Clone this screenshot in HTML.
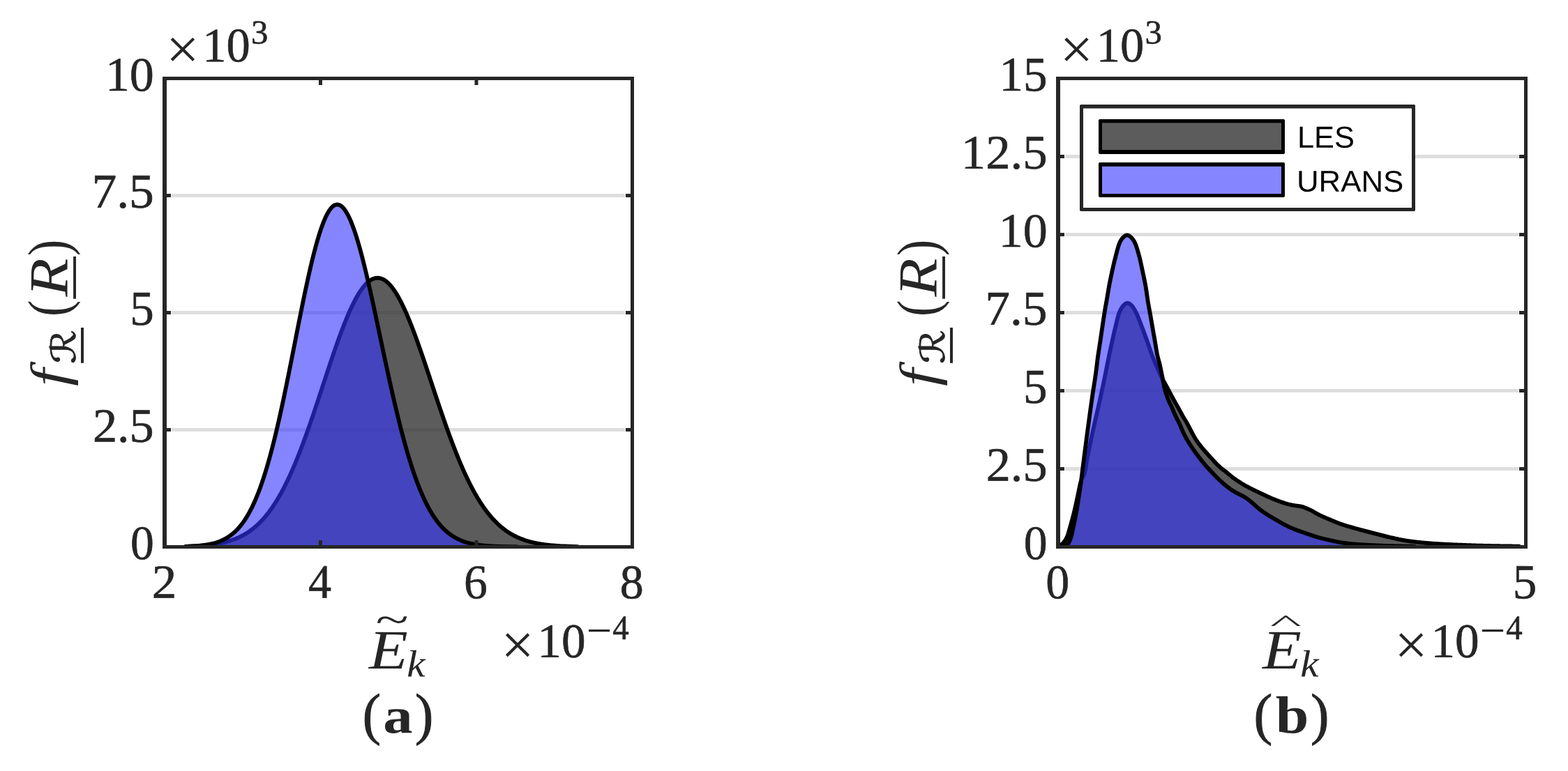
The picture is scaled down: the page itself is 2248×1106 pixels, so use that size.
<!DOCTYPE html>
<html lang="en">
<head>
<meta charset="utf-8">
<title>PDF comparison LES vs URANS</title>
<style>
html,body{margin:0;padding:0;background:#fff;}
body{width:2248px;height:1106px;overflow:hidden;font-family:"Liberation Serif",serif;}
svg{display:block;}
text{white-space:pre;text-rendering:geometricPrecision;}
</style>
</head>
<body>
<svg width="2248" height="1106" viewBox="0 0 2248 1106" role="img" aria-label="Probability density functions of the kinetic energy for LES and URANS">
<defs>
<clipPath id="cl"><rect x="236" y="112" width="671" height="675"/></clipPath>
<clipPath id="cr"><rect x="1517" y="112" width="671" height="675"/></clipPath>
</defs>
<rect x="0" y="0" width="2248" height="1106" fill="#fff"/>
<rect x="246" y="278" width="650" height="5" fill="#dedede"/>
<rect x="246" y="446" width="650" height="5" fill="#dedede"/>
<rect x="246" y="614" width="650" height="5" fill="#dedede"/>
<g clip-path="url(#cl)">
<path d="M268.50,786.40 L268.50,783.79 L271.67,783.67 L276.40,783.48 L280.36,783.28 L283.77,783.08 L286.77,782.89 L289.46,782.69 L291.89,782.49 L294.12,782.30 L296.17,782.10 L298.08,781.90 L299.86,781.71 L301.53,781.51 L303.11,781.31 L304.60,781.11 L306.02,780.92 L307.36,780.72 L308.65,780.52 L309.88,780.33 L311.06,780.13 L312.19,779.93 L313.28,779.74 L314.33,779.54 L315.35,779.34 L316.33,779.15 L317.28,778.95 L318.20,778.75 L319.09,778.56 L319.96,778.36 L320.81,778.16 L321.63,777.97 L322.42,777.77 L323.20,777.57 L323.96,777.37 L324.71,777.18 L325.43,776.98 L326.14,776.78 L332.09,774.94 L337.12,773.10 L341.50,771.26 L345.38,769.42 L348.88,767.58 L352.07,765.73 L355.01,763.89 L357.74,762.05 L360.29,760.21 L362.69,758.37 L364.95,756.52 L367.09,754.68 L369.13,752.84 L371.08,751.00 L372.94,749.16 L374.73,747.32 L376.45,745.47 L378.11,743.63 L379.70,741.79 L381.25,739.95 L382.75,738.11 L384.20,736.27 L385.61,734.42 L386.99,732.58 L388.32,730.74 L389.63,728.90 L390.90,727.06 L392.14,725.21 L393.35,723.37 L394.54,721.53 L395.70,719.69 L396.84,717.85 L397.95,716.01 L399.05,714.16 L400.12,712.32 L401.18,710.48 L402.22,708.64 L403.24,706.80 L404.24,704.96 L405.23,703.11 L406.20,701.27 L407.16,699.43 L408.10,697.59 L409.03,695.75 L409.95,693.90 L410.86,692.06 L411.75,690.22 L412.64,688.38 L413.51,686.54 L414.37,684.70 L415.23,682.85 L416.07,681.01 L416.90,679.17 L417.73,677.33 L418.54,675.49 L419.35,673.65 L420.15,671.80 L420.94,669.96 L421.73,668.12 L422.51,666.28 L423.28,664.44 L424.04,662.59 L424.80,660.75 L425.55,658.91 L426.30,657.07 L427.04,655.23 L427.77,653.39 L428.50,651.54 L429.22,649.70 L429.94,647.86 L430.65,646.02 L431.36,644.18 L432.06,642.34 L432.76,640.49 L433.46,638.65 L434.15,636.81 L434.84,634.97 L435.52,633.13 L436.20,631.29 L436.87,629.44 L437.54,627.60 L438.21,625.76 L438.88,623.92 L439.54,622.08 L440.20,620.23 L440.85,618.39 L441.50,616.55 L442.15,614.71 L442.80,612.87 L443.45,611.03 L444.09,609.18 L444.73,607.34 L445.37,605.50 L446.00,603.66 L446.63,601.82 L447.26,599.98 L447.89,598.13 L448.52,596.29 L449.15,594.45 L449.77,592.61 L450.39,590.77 L451.01,588.92 L451.63,587.08 L452.25,585.24 L452.86,583.40 L453.48,581.56 L454.09,579.72 L454.71,577.87 L455.32,576.03 L455.93,574.19 L456.54,572.35 L457.15,570.51 L457.76,568.67 L458.36,566.82 L458.97,564.98 L459.58,563.14 L460.18,561.30 L460.79,559.46 L461.39,557.61 L462.00,555.77 L462.61,553.93 L463.21,552.09 L463.82,550.25 L464.42,548.41 L465.03,546.56 L465.63,544.72 L466.24,542.88 L466.85,541.04 L467.45,539.20 L468.06,537.36 L468.67,535.51 L469.28,533.67 L469.89,531.83 L470.50,529.99 L471.11,528.15 L471.72,526.30 L472.33,524.46 L472.95,522.62 L473.57,520.78 L474.18,518.94 L474.80,517.10 L475.42,515.25 L476.05,513.41 L476.67,511.57 L477.30,509.73 L477.93,507.89 L478.56,506.05 L479.19,504.20 L479.83,502.36 L480.47,500.52 L481.11,498.68 L481.75,496.84 L482.40,494.99 L483.05,493.15 L483.70,491.31 L484.36,489.47 L485.02,487.63 L485.68,485.79 L486.35,483.94 L487.02,482.10 L487.70,480.26 L488.38,478.42 L489.07,476.58 L489.76,474.74 L490.46,472.89 L491.16,471.05 L491.87,469.21 L492.59,467.37 L493.31,465.53 L494.04,463.69 L494.77,461.84 L495.52,460.00 L496.27,458.16 L497.03,456.32 L497.80,454.48 L498.58,452.63 L499.37,450.79 L500.17,448.95 L500.98,447.11 L501.80,445.27 L502.64,443.43 L503.49,441.58 L504.36,439.74 L505.24,437.90 L506.14,436.06 L507.06,434.22 L508.00,432.38 L508.97,430.53 L509.95,428.69 L510.97,426.85 L512.01,425.01 L513.09,423.17 L514.21,421.32 L515.36,419.48 L516.57,417.64 L517.83,415.80 L519.15,413.96 L520.56,412.12 L522.06,410.27 L522.22,410.08 L522.39,409.88 L522.56,409.69 L522.73,409.49 L522.90,409.29 L523.07,409.10 L523.25,408.90 L523.43,408.70 L523.60,408.51 L523.78,408.31 L523.97,408.12 L524.15,407.92 L524.34,407.72 L524.52,407.53 L524.71,407.33 L524.90,407.14 L525.10,406.94 L525.29,406.74 L525.49,406.55 L525.69,406.35 L525.90,406.15 L526.10,405.96 L526.31,405.76 L526.52,405.57 L526.74,405.37 L526.95,405.17 L527.17,404.98 L527.40,404.78 L527.63,404.59 L527.86,404.39 L528.09,404.19 L528.33,404.00 L528.58,403.80 L528.83,403.60 L529.08,403.41 L529.34,403.21 L529.60,403.02 L529.87,402.82 L530.15,402.62 L530.43,402.43 L530.72,402.23 L531.02,402.03 L531.33,401.84 L531.65,401.64 L531.98,401.45 L532.32,401.25 L532.67,401.05 L533.04,400.86 L533.42,400.66 L533.83,400.47 L534.26,400.27 L534.71,400.07 L535.20,399.88 L535.73,399.68 L536.32,399.48 L536.99,399.29 L537.78,399.09 L538.81,398.90 L541.30,398.70 L543.78,398.90 L544.81,399.09 L545.59,399.29 L546.26,399.48 L546.84,399.68 L547.37,399.88 L547.86,400.07 L548.32,400.27 L548.74,400.47 L549.15,400.66 L549.53,400.86 L549.90,401.05 L550.25,401.25 L550.59,401.45 L550.91,401.64 L551.23,401.84 L551.54,402.03 L551.84,402.23 L552.13,402.43 L552.41,402.62 L552.69,402.82 L552.95,403.02 L553.22,403.21 L553.48,403.41 L553.73,403.60 L553.98,403.80 L554.22,404.00 L554.46,404.19 L554.69,404.39 L554.92,404.59 L555.15,404.78 L555.37,404.98 L555.59,405.17 L555.81,405.37 L556.02,405.57 L556.24,405.76 L556.44,405.96 L556.65,406.15 L556.85,406.35 L557.05,406.55 L557.25,406.74 L557.44,406.94 L557.64,407.14 L557.83,407.33 L558.02,407.53 L558.20,407.72 L558.39,407.92 L558.57,408.12 L558.75,408.31 L558.93,408.51 L559.11,408.70 L559.29,408.90 L559.46,409.10 L559.64,409.29 L559.81,409.49 L559.98,409.69 L560.14,409.88 L560.31,410.08 L560.48,410.27 L561.97,412.12 L563.37,413.96 L564.70,415.80 L565.95,417.64 L567.16,419.48 L568.31,421.32 L569.43,423.17 L570.50,425.01 L571.55,426.85 L572.56,428.69 L573.55,430.53 L574.51,432.38 L575.45,434.22 L576.37,436.06 L577.27,437.90 L578.15,439.74 L579.02,441.58 L579.87,443.43 L580.71,445.27 L581.54,447.11 L582.35,448.95 L583.15,450.79 L583.94,452.63 L584.72,454.48 L585.49,456.32 L586.26,458.16 L587.01,460.00 L587.76,461.84 L588.49,463.69 L589.22,465.53 L589.95,467.37 L590.67,469.21 L591.38,471.05 L592.08,472.89 L592.78,474.74 L593.48,476.58 L594.17,478.42 L594.85,480.26 L595.53,482.10 L596.21,483.94 L596.88,485.79 L597.55,487.63 L598.21,489.47 L598.87,491.31 L599.53,493.15 L600.18,494.99 L600.83,496.84 L601.48,498.68 L602.13,500.52 L602.77,502.36 L603.41,504.20 L604.05,506.05 L604.68,507.89 L605.31,509.73 L605.95,511.57 L606.58,513.41 L607.20,515.25 L607.83,517.10 L608.45,518.94 L609.08,520.78 L609.70,522.62 L610.32,524.46 L610.94,526.30 L611.55,528.15 L612.17,529.99 L612.79,531.83 L613.40,533.67 L614.02,535.51 L614.63,537.36 L615.24,539.20 L615.86,541.04 L616.47,542.88 L617.08,544.72 L617.69,546.56 L618.30,548.41 L618.92,550.25 L619.53,552.09 L620.14,553.93 L620.75,555.77 L621.36,557.61 L621.98,559.46 L622.59,561.30 L623.20,563.14 L623.81,564.98 L624.43,566.82 L625.04,568.67 L625.66,570.51 L626.28,572.35 L626.89,574.19 L627.51,576.03 L628.13,577.87 L628.75,579.72 L629.37,581.56 L629.99,583.40 L630.62,585.24 L631.24,587.08 L631.87,588.92 L632.50,590.77 L633.13,592.61 L633.76,594.45 L634.40,596.29 L635.03,598.13 L635.67,599.98 L636.31,601.82 L636.95,603.66 L637.59,605.50 L638.24,607.34 L638.89,609.18 L639.54,611.03 L640.19,612.87 L640.85,614.71 L641.51,616.55 L642.17,618.39 L642.84,620.23 L643.50,622.08 L644.18,623.92 L644.85,625.76 L645.53,627.60 L646.21,629.44 L646.90,631.29 L647.59,633.13 L648.28,634.97 L648.98,636.81 L649.68,638.65 L650.38,640.49 L651.09,642.34 L651.81,644.18 L652.53,646.02 L653.25,647.86 L653.98,649.70 L654.72,651.54 L655.46,653.39 L656.20,655.23 L656.95,657.07 L657.71,658.91 L658.47,660.75 L659.24,662.59 L660.02,664.44 L660.80,666.28 L661.60,668.12 L662.39,669.96 L663.20,671.80 L664.01,673.65 L664.83,675.49 L665.66,677.33 L666.50,679.17 L667.35,681.01 L668.21,682.85 L669.07,684.70 L669.95,686.54 L670.84,688.38 L671.74,690.22 L672.65,692.06 L673.57,693.90 L674.50,695.75 L675.45,697.59 L676.41,699.43 L677.39,701.27 L678.37,703.11 L679.38,704.96 L680.40,706.80 L681.44,708.64 L682.49,710.48 L683.56,712.32 L684.66,714.16 L685.77,716.01 L686.91,717.85 L688.06,719.69 L689.24,721.53 L690.45,723.37 L691.68,725.21 L692.95,727.06 L694.24,728.90 L695.56,730.74 L696.92,732.58 L698.31,734.42 L699.75,736.27 L701.23,738.11 L702.75,739.95 L704.32,741.79 L705.94,743.63 L707.62,745.47 L709.37,747.32 L711.19,749.16 L713.08,751.00 L715.05,752.84 L717.12,754.68 L719.30,756.52 L721.59,758.37 L724.02,760.21 L726.61,762.05 L729.38,763.89 L732.36,765.73 L735.60,767.58 L739.15,769.42 L743.08,771.26 L747.51,773.10 L752.61,774.94 L758.64,776.78 L759.36,776.98 L760.09,777.18 L760.84,777.37 L761.61,777.57 L762.40,777.77 L763.21,777.97 L764.04,778.16 L764.89,778.36 L765.77,778.56 L766.67,778.75 L767.60,778.95 L768.56,779.15 L769.56,779.34 L770.59,779.54 L771.65,779.74 L772.75,779.93 L773.90,780.13 L775.09,780.33 L776.34,780.52 L777.64,780.72 L779.00,780.92 L780.43,781.11 L781.94,781.31 L783.53,781.51 L785.22,781.71 L787.03,781.90 L788.95,782.10 L791.03,782.30 L793.28,782.49 L795.74,782.69 L798.46,782.89 L801.50,783.08 L804.95,783.28 L808.95,783.48 L813.73,783.67 L819.69,783.87 L827.72,784.07 L828.00,784.07 L828.00,786.40 Z" fill="rgba(51,51,51,0.8)" stroke="#000" stroke-width="5.8" stroke-linejoin="round"/>
<path d="M266.00,786.40 L266.00,784.00 L267.38,783.95 L273.43,783.70 L277.93,783.45 L281.53,783.20 L284.54,782.95 L287.14,782.70 L289.43,782.45 L291.47,782.20 L293.33,781.95 L295.02,781.69 L296.59,781.44 L298.04,781.19 L299.40,780.94 L300.67,780.69 L301.87,780.44 L303.00,780.19 L304.08,779.94 L305.10,779.69 L306.08,779.44 L307.02,779.19 L307.92,778.94 L308.78,778.69 L309.61,778.44 L310.41,778.19 L311.18,777.94 L311.93,777.69 L312.65,777.43 L313.35,777.18 L314.03,776.93 L314.69,776.68 L315.33,776.43 L315.96,776.18 L316.56,775.93 L317.16,775.68 L317.73,775.43 L318.30,775.18 L318.85,774.93 L319.39,774.68 L323.91,772.33 L327.74,769.99 L331.06,767.64 L334.01,765.30 L336.67,762.96 L339.09,760.61 L341.32,758.27 L343.39,755.92 L345.33,753.58 L347.14,751.23 L348.86,748.89 L350.48,746.54 L352.03,744.20 L353.50,741.86 L354.91,739.51 L356.27,737.17 L357.57,734.82 L358.83,732.48 L360.04,730.13 L361.21,727.79 L362.34,725.44 L363.44,723.10 L364.51,720.76 L365.55,718.41 L366.56,716.07 L367.55,713.72 L368.51,711.38 L369.45,709.03 L370.37,706.69 L371.26,704.34 L372.14,702.00 L373.00,699.66 L373.85,697.31 L374.68,694.97 L375.49,692.62 L376.29,690.28 L377.07,687.93 L377.84,685.59 L378.60,683.24 L379.35,680.90 L380.09,678.56 L380.81,676.21 L381.53,673.87 L382.23,671.52 L382.93,669.18 L383.61,666.83 L384.29,664.49 L384.96,662.14 L385.62,659.80 L386.27,657.46 L386.91,655.11 L387.55,652.77 L388.18,650.42 L388.81,648.08 L389.42,645.73 L390.04,643.39 L390.64,641.04 L391.24,638.70 L391.83,636.36 L392.42,634.01 L393.01,631.67 L393.59,629.32 L394.16,626.98 L394.73,624.63 L395.29,622.29 L395.85,619.94 L396.41,617.60 L396.96,615.26 L397.51,612.91 L398.05,610.57 L398.59,608.22 L399.13,605.88 L399.66,603.53 L400.19,601.19 L400.71,598.84 L401.24,596.50 L401.76,594.16 L402.28,591.81 L402.79,589.47 L403.30,587.12 L403.81,584.78 L404.32,582.43 L404.82,580.09 L405.32,577.74 L405.82,575.40 L406.32,573.06 L406.81,570.71 L407.31,568.37 L407.80,566.02 L408.29,563.68 L408.77,561.33 L409.26,558.99 L409.74,556.64 L410.22,554.30 L410.70,551.96 L411.18,549.61 L411.66,547.27 L412.14,544.92 L412.61,542.58 L413.09,540.23 L413.56,537.89 L414.03,535.54 L414.50,533.20 L414.97,530.86 L415.44,528.51 L415.90,526.17 L416.37,523.82 L416.84,521.48 L417.30,519.13 L417.77,516.79 L418.23,514.44 L418.69,512.10 L419.16,509.76 L419.62,507.41 L420.08,505.07 L420.54,502.72 L421.00,500.38 L421.47,498.03 L421.93,495.69 L422.39,493.34 L422.85,491.00 L423.31,488.66 L423.77,486.31 L424.23,483.97 L424.69,481.62 L425.16,479.28 L425.62,476.93 L426.08,474.59 L426.54,472.24 L427.01,469.90 L427.47,467.56 L427.94,465.21 L428.40,462.87 L428.87,460.52 L429.33,458.18 L429.80,455.83 L430.27,453.49 L430.74,451.14 L431.21,448.80 L431.68,446.46 L432.16,444.11 L432.63,441.77 L433.11,439.42 L433.59,437.08 L434.07,434.73 L434.55,432.39 L435.03,430.04 L435.51,427.70 L436.00,425.36 L436.49,423.01 L436.98,420.67 L437.47,418.32 L437.97,415.98 L438.47,413.63 L438.97,411.29 L439.47,408.94 L439.98,406.60 L440.49,404.26 L441.00,401.91 L441.51,399.57 L442.03,397.22 L442.56,394.88 L443.08,392.53 L443.62,390.19 L444.15,387.84 L444.69,385.50 L445.23,383.16 L445.78,380.81 L446.34,378.47 L446.90,376.12 L447.46,373.78 L448.04,371.43 L448.61,369.09 L449.20,366.74 L449.79,364.40 L450.39,362.06 L451.00,359.71 L451.61,357.37 L452.24,355.02 L452.87,352.68 L453.52,350.33 L454.18,347.99 L454.84,345.64 L455.52,343.30 L456.22,340.96 L456.93,338.61 L457.65,336.27 L458.40,333.92 L459.16,331.58 L459.94,329.23 L460.75,326.89 L461.58,324.54 L462.44,322.20 L463.33,319.86 L464.26,317.51 L465.24,315.17 L466.26,312.82 L467.35,310.48 L468.51,308.13 L468.63,307.88 L468.76,307.63 L468.89,307.38 L469.03,307.13 L469.16,306.88 L469.29,306.63 L469.43,306.39 L469.56,306.14 L469.70,305.89 L469.84,305.64 L469.98,305.39 L470.12,305.14 L470.27,304.89 L470.41,304.64 L470.56,304.39 L470.71,304.14 L470.86,303.89 L471.01,303.64 L471.16,303.39 L471.32,303.14 L471.48,302.89 L471.63,302.64 L471.80,302.39 L471.96,302.14 L472.13,301.89 L472.29,301.64 L472.46,301.39 L472.64,301.14 L472.81,300.89 L472.99,300.64 L473.18,300.39 L473.36,300.14 L473.55,299.89 L473.74,299.64 L473.94,299.39 L474.14,299.14 L474.34,298.89 L474.55,298.64 L474.77,298.39 L474.99,298.14 L475.21,297.89 L475.44,297.65 L475.68,297.40 L475.93,297.15 L476.18,296.90 L476.45,296.65 L476.72,296.40 L477.00,296.15 L477.30,295.90 L477.62,295.65 L477.95,295.40 L478.30,295.15 L478.68,294.90 L479.09,294.65 L479.55,294.40 L480.06,294.15 L480.68,293.90 L481.47,293.65 L483.40,293.40 L485.37,293.65 L486.19,293.90 L486.82,294.15 L487.35,294.40 L487.82,294.65 L488.24,294.90 L488.63,295.15 L488.99,295.40 L489.33,295.65 L489.65,295.90 L489.96,296.15 L490.25,296.40 L490.53,296.65 L490.80,296.90 L491.06,297.15 L491.31,297.40 L491.56,297.65 L491.80,297.89 L492.03,298.14 L492.25,298.39 L492.47,298.64 L492.69,298.89 L492.90,299.14 L493.10,299.39 L493.30,299.64 L493.50,299.89 L493.70,300.14 L493.89,300.39 L494.07,300.64 L494.26,300.89 L494.44,301.14 L494.62,301.39 L494.79,301.64 L494.96,301.89 L495.13,302.14 L495.30,302.39 L495.47,302.64 L495.63,302.89 L495.79,303.14 L495.95,303.39 L496.11,303.64 L496.27,303.89 L496.42,304.14 L496.57,304.39 L496.72,304.64 L496.87,304.89 L497.02,305.14 L497.17,305.39 L497.31,305.64 L497.45,305.89 L497.60,306.14 L497.74,306.39 L497.88,306.63 L498.01,306.88 L498.15,307.13 L498.29,307.38 L498.42,307.63 L498.55,307.88 L498.69,308.13 L499.88,310.48 L501.00,312.82 L502.05,315.17 L503.06,317.51 L504.02,319.86 L504.94,322.20 L505.83,324.54 L506.69,326.89 L507.53,329.23 L508.34,331.58 L509.13,333.92 L509.90,336.27 L510.65,338.61 L511.39,340.96 L512.11,343.30 L512.81,345.64 L513.51,347.99 L514.19,350.33 L514.86,352.68 L515.53,355.02 L516.18,357.37 L516.82,359.71 L517.45,362.06 L518.08,364.40 L518.70,366.74 L519.31,369.09 L519.92,371.43 L520.52,373.78 L521.11,376.12 L521.70,378.47 L522.28,380.81 L522.86,383.16 L523.43,385.50 L523.99,387.84 L524.56,390.19 L525.12,392.53 L525.67,394.88 L526.22,397.22 L526.77,399.57 L527.31,401.91 L527.86,404.26 L528.39,406.60 L528.93,408.94 L529.46,411.29 L529.99,413.63 L530.52,415.98 L531.04,418.32 L531.56,420.67 L532.08,423.01 L532.60,425.36 L533.12,427.70 L533.63,430.04 L534.15,432.39 L534.66,434.73 L535.17,437.08 L535.68,439.42 L536.18,441.77 L536.69,444.11 L537.19,446.46 L537.70,448.80 L538.20,451.14 L538.70,453.49 L539.20,455.83 L539.70,458.18 L540.20,460.52 L540.70,462.87 L541.20,465.21 L541.70,467.56 L542.19,469.90 L542.69,472.24 L543.19,474.59 L543.68,476.93 L544.18,479.28 L544.67,481.62 L545.17,483.97 L545.66,486.31 L546.16,488.66 L546.66,491.00 L547.15,493.34 L547.65,495.69 L548.15,498.03 L548.64,500.38 L549.14,502.72 L549.64,505.07 L550.14,507.41 L550.64,509.76 L551.14,512.10 L551.64,514.44 L552.14,516.79 L552.64,519.13 L553.14,521.48 L553.65,523.82 L554.15,526.17 L554.66,528.51 L555.17,530.86 L555.68,533.20 L556.19,535.54 L556.70,537.89 L557.21,540.23 L557.72,542.58 L558.24,544.92 L558.76,547.27 L559.28,549.61 L559.80,551.96 L560.32,554.30 L560.84,556.64 L561.37,558.99 L561.90,561.33 L562.43,563.68 L562.96,566.02 L563.50,568.37 L564.03,570.71 L564.57,573.06 L565.12,575.40 L565.66,577.74 L566.21,580.09 L566.76,582.43 L567.31,584.78 L567.87,587.12 L568.43,589.47 L568.99,591.81 L569.55,594.16 L570.12,596.50 L570.69,598.84 L571.27,601.19 L571.85,603.53 L572.43,605.88 L573.02,608.22 L573.61,610.57 L574.21,612.91 L574.81,615.26 L575.41,617.60 L576.02,619.94 L576.63,622.29 L577.25,624.63 L577.87,626.98 L578.50,629.32 L579.14,631.67 L579.78,634.01 L580.42,636.36 L581.07,638.70 L581.73,641.04 L582.40,643.39 L583.07,645.73 L583.75,648.08 L584.43,650.42 L585.12,652.77 L585.82,655.11 L586.53,657.46 L587.25,659.80 L587.97,662.14 L588.71,664.49 L589.45,666.83 L590.21,669.18 L590.97,671.52 L591.74,673.87 L592.53,676.21 L593.32,678.56 L594.13,680.90 L594.95,683.24 L595.79,685.59 L596.63,687.93 L597.50,690.28 L598.37,692.62 L599.27,694.97 L600.18,697.31 L601.10,699.66 L602.05,702.00 L603.01,704.34 L604.00,706.69 L605.01,709.03 L606.04,711.38 L607.09,713.72 L608.17,716.07 L609.28,718.41 L610.42,720.76 L611.59,723.10 L612.80,725.44 L614.04,727.79 L615.32,730.13 L616.65,732.48 L618.02,734.82 L619.44,737.17 L620.92,739.51 L622.47,741.86 L624.08,744.20 L625.77,746.54 L627.54,748.89 L629.41,751.23 L631.39,753.58 L633.50,755.92 L635.75,758.27 L638.18,760.61 L640.82,762.96 L643.71,765.30 L646.91,767.64 L650.51,769.99 L654.66,772.33 L659.56,774.68 L660.14,774.93 L660.74,775.18 L661.35,775.43 L661.97,775.68 L662.61,775.93 L663.27,776.18 L663.95,776.43 L664.64,776.68 L665.35,776.93 L666.09,777.18 L666.84,777.43 L667.62,777.69 L668.43,777.94 L669.27,778.19 L670.13,778.44 L671.03,778.69 L671.96,778.94 L672.93,779.19 L673.94,779.44 L674.99,779.69 L676.10,779.94 L677.26,780.19 L678.49,780.44 L679.78,780.69 L681.15,780.94 L682.61,781.19 L684.18,781.44 L685.86,781.69 L687.69,781.95 L689.69,782.20 L691.89,782.45 L694.36,782.70 L697.16,782.95 L700.40,783.20 L704.28,783.45 L709.12,783.70 L715.62,783.95 L725.79,784.20 L741.00,784.39 L741.00,786.40 Z" fill="rgba(51,51,255,0.6)" stroke="#000" stroke-width="5.8" stroke-linejoin="round"/>
</g>
<path fill="#262626" fill-rule="evenodd" d="M233,110H909V787H233Z M239,115H904V782H239Z"/>
<rect x="239" y="278" width="6" height="5" fill="#262626"/>
<rect x="897" y="278" width="7" height="5" fill="#262626"/>
<rect x="239" y="446" width="6" height="5" fill="#262626"/>
<rect x="897" y="446" width="7" height="5" fill="#262626"/>
<rect x="239" y="614" width="6" height="5" fill="#262626"/>
<rect x="897" y="614" width="7" height="5" fill="#262626"/>
<rect x="457" y="115" width="5" height="7" fill="#262626"/>
<rect x="457" y="775" width="5" height="7" fill="#262626"/>
<rect x="680.5" y="115" width="5" height="7" fill="#262626"/>
<rect x="680.5" y="775" width="5" height="7" fill="#262626"/>
<rect x="1527" y="222" width="650" height="5" fill="#dedede"/>
<rect x="1527" y="334" width="650" height="5" fill="#dedede"/>
<rect x="1527" y="446" width="650" height="5" fill="#dedede"/>
<rect x="1527" y="558" width="650" height="5" fill="#dedede"/>
<rect x="1527" y="670" width="650" height="5" fill="#dedede"/>
<g clip-path="url(#cr)">
<path d="M1517.00,786.40 L1517.00,784.50 L1518.38,783.76 L1518.99,783.38 L1519.69,782.92 L1520.43,782.39 L1521.19,781.81 L1521.94,781.18 L1522.68,780.51 L1523.39,779.82 L1524.07,779.09 L1524.72,778.34 L1525.35,777.57 L1525.95,776.77 L1526.52,775.96 L1527.08,775.13 L1527.61,774.28 L1528.11,773.42 L1528.59,772.55 L1529.05,771.66 L1529.48,770.76 L1529.88,769.85 L1530.26,768.93 L1530.62,767.99 L1530.95,767.05 L1531.27,766.11 L1531.57,765.15 L1531.86,764.20 L1532.15,763.24 L1532.43,762.28 L1532.71,761.32 L1532.98,760.36 L1533.25,759.40 L1533.53,758.43 L1533.80,757.47 L1534.07,756.51 L1534.35,755.55 L1534.62,754.59 L1534.90,753.62 L1535.17,752.66 L1535.44,751.70 L1535.71,750.74 L1535.98,749.78 L1536.25,748.81 L1536.51,747.85 L1536.78,746.88 L1537.04,745.92 L1537.30,744.95 L1537.55,743.98 L1537.81,743.02 L1538.06,742.05 L1538.31,741.08 L1538.56,740.11 L1538.81,739.14 L1539.05,738.18 L1539.30,737.21 L1539.54,736.23 L1539.78,735.26 L1540.01,734.29 L1540.25,733.32 L1540.48,732.35 L1540.71,731.37 L1540.93,730.40 L1541.16,729.43 L1541.38,728.45 L1541.60,727.47 L1541.82,726.50 L1542.04,725.52 L1542.25,724.55 L1542.47,723.57 L1542.68,722.59 L1542.90,721.62 L1543.11,720.64 L1543.32,719.66 L1543.54,718.69 L1543.75,717.71 L1543.96,716.73 L1544.18,715.75 L1544.39,714.78 L1544.60,713.80 L1544.81,712.82 L1545.02,711.85 L1545.23,710.87 L1545.44,709.89 L1545.64,708.91 L1545.84,707.93 L1546.04,706.95 L1546.24,705.97 L1546.43,704.99 L1546.63,704.01 L1546.82,703.03 L1547.02,702.05 L1547.21,701.07 L1547.41,700.09 L1547.61,699.11 L1547.81,698.13 L1548.02,697.15 L1548.24,696.17 L1548.46,695.20 L1548.69,694.23 L1548.94,693.26 L1549.20,692.29 L1549.48,691.34 L1549.78,690.38 L1550.11,689.44 L1550.47,688.51 L1550.86,687.59 L1551.27,686.69 L1551.70,685.79 L1552.15,684.89 L1552.60,684.00 L1553.04,683.11 L1553.46,682.21 L1553.86,681.29 L1554.23,680.37 L1554.57,679.43 L1554.88,678.48 L1555.16,677.53 L1555.41,676.56 L1555.63,675.59 L1555.84,674.61 L1556.04,673.63 L1556.22,672.65 L1556.39,671.66 L1556.56,670.68 L1556.72,669.69 L1556.88,668.70 L1557.03,667.72 L1557.19,666.73 L1557.34,665.74 L1557.50,664.75 L1557.65,663.76 L1557.81,662.78 L1557.96,661.79 L1558.12,660.80 L1558.29,659.82 L1558.46,658.83 L1558.63,657.85 L1558.81,656.86 L1558.99,655.88 L1559.17,654.89 L1559.36,653.91 L1559.55,652.93 L1559.74,651.95 L1559.93,650.97 L1560.12,649.99 L1560.32,649.00 L1560.51,648.02 L1560.71,647.04 L1560.90,646.06 L1561.10,645.08 L1561.30,644.10 L1561.50,643.12 L1561.70,642.14 L1561.91,641.16 L1562.11,640.19 L1562.31,639.21 L1562.52,638.23 L1562.72,637.25 L1562.93,636.27 L1563.13,635.29 L1563.34,634.31 L1563.55,633.34 L1563.76,632.36 L1563.96,631.38 L1564.17,630.40 L1564.38,629.42 L1564.59,628.44 L1564.80,627.47 L1565.01,626.49 L1565.22,625.51 L1565.43,624.53 L1565.64,623.56 L1565.85,622.58 L1566.06,621.60 L1566.28,620.62 L1566.49,619.65 L1566.70,618.67 L1566.92,617.69 L1567.13,616.72 L1567.35,615.74 L1567.56,614.76 L1567.78,613.79 L1568.00,612.81 L1568.22,611.84 L1568.44,610.86 L1568.65,609.88 L1568.87,608.91 L1569.09,607.93 L1569.32,606.96 L1569.54,605.98 L1569.76,605.01 L1569.98,604.03 L1570.20,603.06 L1570.43,602.08 L1570.65,601.11 L1570.87,600.13 L1571.09,599.16 L1571.32,598.18 L1571.54,597.21 L1571.77,596.23 L1571.99,595.26 L1572.21,594.29 L1572.44,593.31 L1572.66,592.34 L1572.88,591.36 L1573.11,590.39 L1573.33,589.41 L1573.55,588.44 L1573.78,587.46 L1574.00,586.49 L1574.22,585.51 L1574.44,584.54 L1574.67,583.56 L1574.89,582.59 L1575.11,581.61 L1575.33,580.64 L1575.55,579.66 L1575.77,578.69 L1575.99,577.71 L1576.21,576.73 L1576.42,575.76 L1576.64,574.78 L1576.86,573.81 L1577.08,572.83 L1577.29,571.85 L1577.51,570.88 L1577.72,569.90 L1577.93,568.92 L1578.15,567.95 L1578.36,566.97 L1578.57,565.99 L1578.79,565.01 L1579.00,564.04 L1579.21,563.06 L1579.42,562.08 L1579.63,561.11 L1579.84,560.13 L1580.05,559.15 L1580.26,558.17 L1580.47,557.19 L1580.68,556.22 L1580.89,555.24 L1581.10,554.26 L1581.31,553.28 L1581.52,552.30 L1581.72,551.33 L1581.93,550.35 L1582.14,549.37 L1582.34,548.39 L1582.55,547.41 L1582.75,546.43 L1582.96,545.45 L1583.16,544.48 L1583.36,543.50 L1583.57,542.52 L1583.77,541.54 L1583.97,540.56 L1584.17,539.58 L1584.37,538.60 L1584.57,537.62 L1584.77,536.64 L1584.96,535.66 L1585.16,534.68 L1585.36,533.70 L1585.55,532.72 L1585.75,531.74 L1585.94,530.76 L1586.14,529.77 L1586.33,528.79 L1586.53,527.81 L1586.72,526.83 L1586.91,525.85 L1587.10,524.87 L1587.29,523.89 L1587.49,522.91 L1587.68,521.92 L1587.87,520.94 L1588.06,519.96 L1588.26,518.98 L1588.45,518.00 L1588.65,517.02 L1588.84,516.04 L1589.04,515.06 L1589.24,514.08 L1589.44,513.10 L1589.64,512.12 L1589.84,511.14 L1590.05,510.16 L1590.25,509.18 L1590.46,508.20 L1590.66,507.22 L1590.87,506.25 L1591.08,505.27 L1591.29,504.29 L1591.50,503.31 L1591.71,502.34 L1591.92,501.36 L1592.14,500.38 L1592.35,499.40 L1592.56,498.43 L1592.78,497.45 L1592.99,496.47 L1593.21,495.50 L1593.42,494.52 L1593.64,493.54 L1593.85,492.57 L1594.07,491.59 L1594.29,490.61 L1594.50,489.64 L1594.72,488.66 L1594.93,487.68 L1595.14,486.71 L1595.36,485.73 L1595.57,484.75 L1595.79,483.78 L1596.00,482.80 L1596.21,481.82 L1596.43,480.85 L1596.64,479.87 L1596.86,478.89 L1597.08,477.92 L1597.30,476.94 L1597.52,475.97 L1597.74,474.99 L1597.96,474.02 L1598.19,473.04 L1598.42,472.07 L1598.65,471.10 L1598.88,470.12 L1599.12,469.15 L1599.36,468.18 L1599.59,467.21 L1599.83,466.24 L1600.07,465.27 L1600.30,464.30 L1600.54,463.32 L1600.78,462.35 L1601.01,461.38 L1601.25,460.41 L1601.49,459.44 L1601.73,458.47 L1601.98,457.50 L1602.22,456.53 L1602.48,455.56 L1602.74,454.60 L1603.00,453.63 L1603.28,452.67 L1603.57,451.71 L1603.87,450.76 L1604.18,449.82 L1604.52,448.88 L1604.88,447.94 L1605.26,447.02 L1605.67,446.11 L1606.10,445.21 L1606.55,444.32 L1607.02,443.44 L1607.52,442.58 L1608.04,441.73 L1608.59,440.90 L1609.16,440.08 L1609.77,439.30 L1610.41,438.54 L1611.08,437.81 L1611.79,437.11 L1612.53,436.47 L1613.30,435.88 L1614.10,435.39 L1614.94,435.02 L1615.80,434.80 L1616.68,434.76 L1617.55,434.89 L1618.40,435.19 L1619.23,435.62 L1620.03,436.15 L1620.79,436.76 L1621.52,437.42 L1622.22,438.13 L1622.88,438.87 L1623.51,439.63 L1624.11,440.43 L1624.69,441.24 L1625.24,442.07 L1625.77,442.92 L1626.29,443.77 L1626.80,444.63 L1627.29,445.50 L1627.77,446.38 L1628.24,447.26 L1628.70,448.15 L1629.14,449.04 L1629.57,449.94 L1629.99,450.85 L1630.40,451.76 L1630.80,452.68 L1631.19,453.60 L1631.57,454.53 L1631.94,455.45 L1632.31,456.38 L1632.68,457.31 L1633.04,458.25 L1633.40,459.18 L1633.75,460.11 L1634.11,461.05 L1634.46,461.98 L1634.82,462.92 L1635.17,463.85 L1635.52,464.79 L1635.88,465.72 L1636.23,466.66 L1636.59,467.59 L1636.95,468.53 L1637.31,469.46 L1637.66,470.39 L1638.02,471.33 L1638.38,472.26 L1638.73,473.20 L1639.08,474.14 L1639.43,475.07 L1639.78,476.01 L1640.13,476.95 L1640.47,477.88 L1640.82,478.82 L1641.16,479.76 L1641.50,480.70 L1641.85,481.64 L1642.19,482.58 L1642.53,483.52 L1642.87,484.46 L1643.21,485.40 L1643.55,486.34 L1643.89,487.28 L1644.22,488.23 L1644.56,489.17 L1644.90,490.11 L1645.23,491.05 L1645.56,491.99 L1645.89,492.94 L1646.22,493.88 L1646.55,494.83 L1646.87,495.77 L1647.20,496.72 L1647.52,497.67 L1647.84,498.61 L1648.17,499.56 L1648.49,500.51 L1648.81,501.45 L1649.14,502.40 L1649.46,503.34 L1649.79,504.29 L1650.12,505.23 L1650.45,506.18 L1650.78,507.12 L1651.12,508.06 L1651.47,509.00 L1651.81,509.94 L1652.17,510.87 L1652.52,511.80 L1652.89,512.74 L1653.26,513.67 L1653.63,514.59 L1654.01,515.52 L1654.40,516.44 L1654.78,517.36 L1655.17,518.28 L1655.57,519.20 L1655.96,520.12 L1656.36,521.04 L1656.76,521.96 L1657.16,522.87 L1657.57,523.79 L1657.97,524.70 L1658.38,525.61 L1658.79,526.53 L1659.20,527.44 L1659.61,528.35 L1660.02,529.26 L1660.42,530.18 L1660.83,531.09 L1661.24,532.00 L1661.64,532.92 L1662.04,533.83 L1662.44,534.75 L1662.85,535.66 L1663.25,536.58 L1663.66,537.49 L1664.07,538.40 L1664.49,539.31 L1664.92,540.21 L1665.35,541.11 L1665.80,542.01 L1666.25,542.90 L1666.71,543.79 L1667.18,544.67 L1667.66,545.55 L1668.14,546.42 L1668.63,547.30 L1669.12,548.17 L1669.61,549.04 L1670.10,549.91 L1670.58,550.79 L1671.07,551.66 L1671.55,552.54 L1672.02,553.42 L1672.49,554.30 L1672.96,555.18 L1673.43,556.07 L1673.89,556.95 L1674.36,557.84 L1674.83,558.72 L1675.29,559.61 L1675.76,560.49 L1676.23,561.38 L1676.70,562.26 L1677.17,563.14 L1677.64,564.02 L1678.11,564.90 L1678.58,565.79 L1679.06,566.67 L1679.53,567.55 L1680.01,568.43 L1680.48,569.31 L1680.96,570.19 L1681.44,571.07 L1681.91,571.94 L1682.39,572.82 L1682.88,573.70 L1683.36,574.57 L1683.84,575.45 L1684.33,576.32 L1684.82,577.19 L1685.30,578.07 L1685.80,578.94 L1686.29,579.81 L1686.78,580.68 L1687.27,581.55 L1687.76,582.42 L1688.25,583.29 L1688.75,584.16 L1689.24,585.03 L1689.72,585.91 L1690.21,586.78 L1690.70,587.65 L1691.18,588.53 L1691.66,589.41 L1692.14,590.29 L1692.62,591.16 L1693.09,592.04 L1693.57,592.92 L1694.04,593.80 L1694.52,594.68 L1695.00,595.56 L1695.48,596.43 L1695.97,597.31 L1696.47,598.18 L1696.97,599.04 L1697.48,599.90 L1698.00,600.75 L1698.52,601.60 L1699.05,602.45 L1699.58,603.30 L1700.10,604.15 L1700.62,605.01 L1701.13,605.87 L1701.63,606.73 L1702.12,607.61 L1702.60,608.48 L1703.08,609.36 L1703.55,610.25 L1704.01,611.13 L1704.47,612.02 L1704.92,612.91 L1705.38,613.80 L1705.84,614.69 L1706.29,615.58 L1706.75,616.47 L1707.21,617.36 L1707.68,618.24 L1708.14,619.13 L1708.61,620.01 L1709.08,620.89 L1709.56,621.77 L1710.03,622.65 L1710.51,623.53 L1710.99,624.41 L1711.47,625.29 L1711.95,626.16 L1712.44,627.03 L1712.94,627.90 L1713.45,628.76 L1713.97,629.61 L1714.51,630.45 L1715.05,631.29 L1715.60,632.12 L1716.17,632.95 L1716.74,633.77 L1717.32,634.58 L1717.91,635.39 L1718.50,636.20 L1719.10,637.00 L1719.71,637.79 L1720.32,638.58 L1720.94,639.37 L1721.56,640.15 L1722.19,640.93 L1722.82,641.71 L1723.46,642.48 L1724.10,643.24 L1724.74,644.01 L1725.39,644.77 L1726.05,645.52 L1726.70,646.28 L1727.36,647.03 L1728.03,647.78 L1728.69,648.52 L1729.36,649.27 L1730.03,650.01 L1730.70,650.75 L1731.37,651.49 L1732.04,652.23 L1732.72,652.97 L1733.39,653.71 L1734.06,654.46 L1734.73,655.20 L1735.40,655.94 L1736.07,656.68 L1736.74,657.42 L1737.41,658.17 L1738.08,658.91 L1738.75,659.65 L1739.42,660.39 L1740.10,661.13 L1740.77,661.87 L1741.45,662.60 L1742.14,663.33 L1742.82,664.06 L1743.51,664.78 L1744.21,665.50 L1744.91,666.21 L1745.62,666.91 L1746.34,667.61 L1747.06,668.30 L1747.79,668.98 L1748.53,669.65 L1749.28,670.31 L1750.04,670.96 L1750.81,671.61 L1751.58,672.24 L1752.36,672.87 L1753.15,673.48 L1753.94,674.10 L1754.73,674.71 L1755.52,675.31 L1756.32,675.92 L1757.11,676.53 L1757.90,677.14 L1758.69,677.76 L1759.47,678.38 L1760.25,679.01 L1761.02,679.65 L1761.78,680.29 L1762.54,680.94 L1763.30,681.59 L1764.06,682.24 L1764.83,682.88 L1765.60,683.51 L1766.39,684.13 L1767.18,684.74 L1767.98,685.34 L1768.78,685.93 L1769.59,686.52 L1770.41,687.10 L1771.23,687.68 L1772.05,688.24 L1772.87,688.81 L1773.70,689.37 L1774.53,689.92 L1775.37,690.47 L1776.21,691.01 L1777.05,691.55 L1777.90,692.08 L1778.75,692.61 L1779.60,693.14 L1780.45,693.65 L1781.31,694.17 L1782.17,694.68 L1783.03,695.19 L1783.90,695.69 L1784.76,696.19 L1785.63,696.68 L1786.50,697.17 L1787.38,697.66 L1788.26,698.14 L1789.14,698.61 L1790.02,699.08 L1790.90,699.55 L1791.79,700.01 L1792.68,700.47 L1793.57,700.92 L1794.47,701.37 L1795.36,701.82 L1796.26,702.26 L1797.15,702.70 L1798.05,703.14 L1798.95,703.57 L1799.86,704.00 L1800.76,704.44 L1801.66,704.87 L1802.56,705.30 L1803.47,705.72 L1804.37,706.15 L1805.27,706.58 L1806.18,707.01 L1807.08,707.44 L1807.99,707.86 L1808.89,708.29 L1809.79,708.72 L1810.70,709.15 L1811.60,709.58 L1812.50,710.00 L1813.41,710.43 L1814.31,710.85 L1815.22,711.28 L1816.13,711.70 L1817.04,712.12 L1817.95,712.53 L1818.86,712.94 L1819.77,713.35 L1820.68,713.76 L1821.60,714.16 L1822.52,714.56 L1823.44,714.95 L1824.36,715.33 L1825.28,715.71 L1826.21,716.09 L1827.14,716.46 L1828.07,716.82 L1829.00,717.18 L1829.94,717.54 L1830.87,717.90 L1831.81,718.25 L1832.74,718.60 L1833.68,718.95 L1834.62,719.30 L1835.56,719.64 L1836.50,719.98 L1837.44,720.32 L1838.38,720.65 L1839.33,720.98 L1840.27,721.30 L1841.22,721.61 L1842.18,721.92 L1843.13,722.21 L1844.09,722.50 L1845.05,722.78 L1846.01,723.05 L1846.98,723.30 L1847.95,723.54 L1848.92,723.78 L1849.90,724.00 L1850.87,724.20 L1851.85,724.40 L1852.84,724.59 L1853.82,724.76 L1854.80,724.93 L1855.79,725.10 L1856.78,725.25 L1857.77,725.40 L1858.76,725.54 L1859.75,725.68 L1860.74,725.82 L1861.73,725.94 L1862.72,726.07 L1863.71,726.21 L1864.69,726.36 L1865.67,726.55 L1866.64,726.77 L1867.59,727.03 L1868.53,727.35 L1869.46,727.69 L1870.39,728.07 L1871.31,728.45 L1872.23,728.84 L1873.15,729.23 L1874.07,729.62 L1874.99,730.01 L1875.91,730.40 L1876.83,730.80 L1877.74,731.20 L1878.65,731.62 L1879.55,732.06 L1880.44,732.51 L1881.32,732.98 L1882.19,733.47 L1883.05,733.97 L1883.91,734.48 L1884.77,734.99 L1885.63,735.51 L1886.49,736.02 L1887.35,736.52 L1888.22,737.01 L1889.10,737.49 L1889.98,737.96 L1890.87,738.41 L1891.77,738.85 L1892.67,739.29 L1893.57,739.71 L1894.48,740.14 L1895.39,740.55 L1896.30,740.96 L1897.22,741.37 L1898.13,741.77 L1899.05,742.17 L1899.97,742.56 L1900.89,742.95 L1901.81,743.35 L1902.73,743.74 L1903.65,744.13 L1904.57,744.51 L1905.49,744.90 L1906.41,745.29 L1907.33,745.68 L1908.25,746.07 L1909.18,746.46 L1910.10,746.85 L1911.02,747.24 L1911.94,747.63 L1912.86,748.01 L1913.79,748.40 L1914.71,748.78 L1915.64,749.15 L1916.57,749.52 L1917.50,749.89 L1918.43,750.26 L1919.36,750.61 L1920.30,750.96 L1921.24,751.31 L1922.18,751.65 L1923.12,751.98 L1924.07,752.30 L1925.01,752.62 L1925.96,752.93 L1926.92,753.23 L1927.87,753.53 L1928.83,753.83 L1929.78,754.12 L1930.74,754.41 L1931.70,754.69 L1932.66,754.97 L1933.62,755.25 L1934.58,755.52 L1935.54,755.80 L1936.51,756.07 L1937.47,756.34 L1938.43,756.61 L1939.39,756.89 L1940.35,757.16 L1941.32,757.43 L1942.28,757.70 L1943.24,757.97 L1944.20,758.24 L1945.17,758.51 L1946.13,758.78 L1947.10,759.04 L1948.06,759.31 L1949.02,759.57 L1949.99,759.83 L1950.95,760.10 L1951.92,760.36 L1952.89,760.62 L1953.85,760.87 L1954.82,761.13 L1955.78,761.39 L1956.75,761.65 L1957.72,761.90 L1958.68,762.16 L1959.65,762.41 L1960.62,762.66 L1961.59,762.91 L1962.56,763.16 L1963.52,763.41 L1964.49,763.66 L1965.46,763.91 L1966.43,764.16 L1967.40,764.40 L1968.37,764.65 L1969.34,764.89 L1970.31,765.14 L1971.28,765.38 L1972.25,765.63 L1973.22,765.88 L1974.19,766.12 L1975.15,766.37 L1976.12,766.61 L1977.09,766.86 L1978.06,767.11 L1979.03,767.36 L1980.00,767.61 L1980.97,767.86 L1981.94,768.11 L1982.90,768.36 L1983.87,768.60 L1984.84,768.85 L1985.81,769.10 L1986.78,769.34 L1987.75,769.58 L1988.72,769.82 L1989.69,770.06 L1990.66,770.30 L1991.64,770.53 L1992.61,770.76 L1993.58,770.98 L1994.56,771.21 L1995.53,771.43 L1996.51,771.65 L1997.49,771.87 L1998.46,772.09 L1999.44,772.31 L2000.41,772.52 L2001.39,772.74 L2002.37,772.95 L2003.34,773.16 L2004.32,773.37 L2005.30,773.58 L2006.28,773.78 L2007.26,773.98 L2008.24,774.18 L2009.22,774.37 L2010.20,774.56 L2011.19,774.75 L2012.17,774.93 L2013.15,775.10 L2014.14,775.27 L2015.13,775.43 L2016.11,775.59 L2017.10,775.75 L2018.09,775.90 L2019.08,776.04 L2020.07,776.18 L2021.06,776.32 L2022.05,776.46 L2023.04,776.59 L2024.03,776.72 L2025.02,776.85 L2026.02,776.98 L2027.01,777.10 L2028.00,777.22 L2028.99,777.34 L2029.99,777.45 L2030.98,777.57 L2031.97,777.68 L2032.97,777.78 L2033.96,777.89 L2034.96,777.99 L2035.95,778.10 L2036.95,778.20 L2037.94,778.29 L2038.94,778.39 L2039.93,778.48 L2040.93,778.57 L2041.93,778.67 L2042.92,778.75 L2043.92,778.84 L2044.91,778.93 L2045.91,779.01 L2046.91,779.10 L2047.90,779.18 L2048.90,779.26 L2049.90,779.34 L2050.89,779.41 L2051.89,779.49 L2052.89,779.56 L2053.89,779.64 L2054.88,779.71 L2055.88,779.78 L2056.88,779.85 L2057.88,779.92 L2058.87,779.98 L2059.87,780.05 L2060.87,780.11 L2061.87,780.17 L2062.87,780.23 L2063.86,780.29 L2064.86,780.35 L2065.86,780.40 L2066.86,780.46 L2067.86,780.51 L2068.86,780.57 L2069.85,780.62 L2070.85,780.67 L2071.85,780.72 L2072.85,780.78 L2073.85,780.83 L2074.85,780.87 L2075.85,780.92 L2076.85,780.97 L2077.85,781.02 L2078.84,781.06 L2079.84,781.11 L2080.84,781.15 L2081.84,781.20 L2082.84,781.24 L2083.84,781.28 L2084.84,781.33 L2085.84,781.37 L2086.84,781.41 L2087.84,781.45 L2088.83,781.49 L2089.83,781.53 L2090.83,781.57 L2091.83,781.61 L2092.83,781.65 L2093.83,781.69 L2094.83,781.73 L2095.83,781.77 L2096.83,781.81 L2097.83,781.85 L2098.83,781.89 L2099.83,781.93 L2100.83,781.97 L2101.82,782.01 L2102.82,782.05 L2103.82,782.08 L2104.82,782.12 L2105.82,782.16 L2106.82,782.19 L2107.82,782.23 L2108.82,782.27 L2109.82,782.30 L2110.82,782.34 L2111.82,782.37 L2112.82,782.40 L2113.82,782.44 L2114.82,782.47 L2115.82,782.50 L2116.82,782.53 L2117.81,782.56 L2118.81,782.59 L2119.81,782.62 L2120.81,782.64 L2121.81,782.67 L2122.81,782.70 L2123.81,782.72 L2124.81,782.75 L2125.81,782.77 L2126.81,782.79 L2127.81,782.82 L2128.81,782.84 L2129.81,782.86 L2130.81,782.88 L2131.81,782.90 L2132.81,782.93 L2133.81,782.95 L2134.81,782.97 L2135.81,782.99 L2136.81,783.01 L2137.81,783.03 L2138.81,783.05 L2139.81,783.07 L2140.81,783.09 L2141.81,783.11 L2142.81,783.13 L2143.81,783.15 L2144.81,783.17 L2145.81,783.19 L2146.81,783.21 L2147.81,783.22 L2148.81,783.24 L2149.81,783.26 L2150.81,783.28 L2151.81,783.29 L2152.81,783.31 L2153.81,783.33 L2154.81,783.34 L2155.81,783.36 L2156.81,783.38 L2157.81,783.39 L2158.81,783.40 L2159.81,783.42 L2160.81,783.43 L2161.81,783.45 L2162.81,783.46 L2163.81,783.47 L2164.81,783.48 L2165.81,783.50 L2166.81,783.51 L2167.81,783.52 L2168.81,783.53 L2169.80,783.54 L2170.80,783.55 L2171.80,783.56 L2172.78,783.56 L2173.75,783.57 L2174.67,783.58 L2175.51,783.58 L2176.23,783.59 L2177.80,783.60 L2177.80,786.40 Z" fill="rgba(51,51,51,0.8)" stroke="#000" stroke-width="5.8" stroke-linejoin="round"/>
<path d="M1524.00,786.40 L1524.00,784.50 L1525.52,784.18 L1526.19,783.96 L1526.95,783.67 L1527.74,783.27 L1528.53,782.78 L1529.27,782.20 L1529.97,781.54 L1530.61,780.80 L1531.20,780.02 L1531.75,779.19 L1532.25,778.34 L1532.72,777.46 L1533.16,776.57 L1533.58,775.66 L1533.97,774.74 L1534.35,773.82 L1534.70,772.88 L1535.03,771.94 L1535.35,771.00 L1535.64,770.04 L1535.92,769.08 L1536.18,768.12 L1536.42,767.15 L1536.66,766.18 L1536.88,765.20 L1537.09,764.23 L1537.30,763.25 L1537.51,762.27 L1537.71,761.29 L1537.91,760.31 L1538.11,759.33 L1538.31,758.35 L1538.51,757.37 L1538.72,756.39 L1538.92,755.41 L1539.12,754.43 L1539.33,753.46 L1539.54,752.48 L1539.75,751.50 L1539.95,750.52 L1540.16,749.54 L1540.36,748.56 L1540.57,747.58 L1540.77,746.61 L1540.97,745.63 L1541.17,744.65 L1541.37,743.67 L1541.56,742.69 L1541.76,741.70 L1541.95,740.72 L1542.14,739.74 L1542.33,738.76 L1542.51,737.78 L1542.70,736.79 L1542.88,735.81 L1543.06,734.83 L1543.23,733.84 L1543.41,732.86 L1543.58,731.87 L1543.75,730.89 L1543.92,729.90 L1544.08,728.91 L1544.25,727.93 L1544.41,726.94 L1544.57,725.95 L1544.73,724.97 L1544.89,723.98 L1545.04,722.99 L1545.20,722.00 L1545.36,721.02 L1545.51,720.03 L1545.67,719.04 L1545.82,718.05 L1545.98,717.07 L1546.13,716.08 L1546.29,715.09 L1546.44,714.10 L1546.59,713.11 L1546.75,712.12 L1546.90,711.14 L1547.06,710.15 L1547.21,709.16 L1547.36,708.17 L1547.51,707.18 L1547.67,706.20 L1547.82,705.21 L1547.97,704.22 L1548.12,703.23 L1548.27,702.24 L1548.41,701.25 L1548.56,700.26 L1548.70,699.27 L1548.85,698.28 L1548.99,697.29 L1549.13,696.30 L1549.27,695.31 L1549.41,694.32 L1549.55,693.33 L1549.68,692.34 L1549.82,691.35 L1549.95,690.36 L1550.08,689.37 L1550.21,688.38 L1550.33,687.38 L1550.45,686.39 L1550.58,685.40 L1550.70,684.41 L1550.81,683.41 L1550.93,682.42 L1551.05,681.43 L1551.17,680.43 L1551.29,679.44 L1551.41,678.45 L1551.53,677.46 L1551.65,676.46 L1551.78,675.47 L1551.90,674.48 L1552.02,673.49 L1552.15,672.49 L1552.27,671.50 L1552.40,670.51 L1552.52,669.52 L1552.65,668.53 L1552.77,667.53 L1552.90,666.54 L1553.02,665.55 L1553.15,664.56 L1553.27,663.57 L1553.40,662.57 L1553.53,661.58 L1553.65,660.59 L1553.78,659.60 L1553.91,658.61 L1554.03,657.61 L1554.16,656.62 L1554.29,655.63 L1554.41,654.64 L1554.54,653.65 L1554.67,652.65 L1554.80,651.66 L1554.93,650.67 L1555.05,649.68 L1555.18,648.69 L1555.31,647.70 L1555.44,646.70 L1555.57,645.71 L1555.70,644.72 L1555.83,643.73 L1555.96,642.74 L1556.09,641.75 L1556.22,640.75 L1556.35,639.76 L1556.48,638.77 L1556.61,637.78 L1556.74,636.79 L1556.87,635.80 L1557.00,634.81 L1557.13,633.81 L1557.26,632.82 L1557.39,631.83 L1557.52,630.84 L1557.65,629.85 L1557.78,628.86 L1557.91,627.87 L1558.05,626.87 L1558.18,625.88 L1558.31,624.89 L1558.44,623.90 L1558.57,622.91 L1558.70,621.92 L1558.83,620.93 L1558.97,619.94 L1559.10,618.94 L1559.23,617.95 L1559.36,616.96 L1559.49,615.97 L1559.63,614.98 L1559.76,613.99 L1559.89,613.00 L1560.02,612.01 L1560.15,611.01 L1560.29,610.02 L1560.42,609.03 L1560.55,608.04 L1560.69,607.05 L1560.82,606.06 L1560.95,605.07 L1561.08,604.08 L1561.22,603.09 L1561.35,602.09 L1561.49,601.10 L1561.62,600.11 L1561.75,599.12 L1561.89,598.13 L1562.02,597.14 L1562.16,596.15 L1562.29,595.16 L1562.43,594.17 L1562.56,593.18 L1562.70,592.18 L1562.83,591.19 L1562.97,590.20 L1563.10,589.21 L1563.24,588.22 L1563.38,587.23 L1563.51,586.24 L1563.65,585.25 L1563.79,584.26 L1563.93,583.27 L1564.06,582.28 L1564.20,581.29 L1564.34,580.30 L1564.48,579.31 L1564.62,578.32 L1564.76,577.33 L1564.90,576.34 L1565.04,575.35 L1565.18,574.36 L1565.32,573.37 L1565.46,572.38 L1565.60,571.39 L1565.75,570.40 L1565.89,569.41 L1566.03,568.42 L1566.18,567.43 L1566.33,566.44 L1566.47,565.45 L1566.62,564.46 L1566.77,563.47 L1566.92,562.48 L1567.07,561.50 L1567.23,560.51 L1567.38,559.52 L1567.53,558.53 L1567.69,557.54 L1567.84,556.56 L1567.99,555.57 L1568.15,554.58 L1568.30,553.59 L1568.46,552.60 L1568.61,551.62 L1568.77,550.63 L1568.92,549.64 L1569.07,548.65 L1569.23,547.66 L1569.38,546.67 L1569.53,545.69 L1569.68,544.70 L1569.83,543.71 L1569.98,542.72 L1570.12,541.73 L1570.27,540.74 L1570.41,539.75 L1570.56,538.76 L1570.70,537.77 L1570.84,536.78 L1570.98,535.79 L1571.11,534.80 L1571.25,533.81 L1571.38,532.82 L1571.51,531.83 L1571.64,530.84 L1571.77,529.84 L1571.89,528.85 L1572.02,527.86 L1572.14,526.87 L1572.26,525.87 L1572.38,524.88 L1572.50,523.89 L1572.62,522.90 L1572.74,521.90 L1572.86,520.91 L1572.98,519.92 L1573.10,518.92 L1573.22,517.93 L1573.34,516.94 L1573.47,515.95 L1573.59,514.96 L1573.72,513.96 L1573.85,512.97 L1573.99,511.98 L1574.12,510.99 L1574.26,510.00 L1574.40,509.01 L1574.55,508.02 L1574.69,507.03 L1574.84,506.04 L1574.99,505.05 L1575.14,504.06 L1575.29,503.08 L1575.44,502.09 L1575.59,501.10 L1575.75,500.11 L1575.90,499.12 L1576.06,498.14 L1576.21,497.15 L1576.36,496.16 L1576.52,495.17 L1576.67,494.18 L1576.82,493.19 L1576.98,492.21 L1577.13,491.22 L1577.28,490.23 L1577.43,489.24 L1577.57,488.25 L1577.72,487.26 L1577.87,486.27 L1578.01,485.28 L1578.16,484.29 L1578.31,483.30 L1578.45,482.32 L1578.60,481.33 L1578.74,480.34 L1578.89,479.35 L1579.03,478.36 L1579.18,477.37 L1579.32,476.38 L1579.47,475.39 L1579.61,474.40 L1579.76,473.41 L1579.90,472.42 L1580.05,471.43 L1580.20,470.44 L1580.34,469.45 L1580.49,468.47 L1580.64,467.48 L1580.79,466.49 L1580.93,465.50 L1581.08,464.51 L1581.23,463.52 L1581.37,462.53 L1581.52,461.54 L1581.67,460.55 L1581.82,459.56 L1581.96,458.57 L1582.11,457.59 L1582.26,456.60 L1582.41,455.61 L1582.56,454.62 L1582.71,453.63 L1582.86,452.64 L1583.02,451.65 L1583.17,450.67 L1583.33,449.68 L1583.49,448.69 L1583.64,447.70 L1583.80,446.72 L1583.97,445.73 L1584.13,444.74 L1584.30,443.76 L1584.46,442.77 L1584.63,441.79 L1584.80,440.80 L1584.98,439.82 L1585.15,438.83 L1585.32,437.85 L1585.50,436.86 L1585.67,435.88 L1585.85,434.89 L1586.03,433.91 L1586.20,432.92 L1586.38,431.94 L1586.55,430.95 L1586.73,429.97 L1586.90,428.99 L1587.08,428.00 L1587.25,427.01 L1587.42,426.03 L1587.58,425.04 L1587.75,424.06 L1587.92,423.07 L1588.08,422.08 L1588.24,421.10 L1588.40,420.11 L1588.57,419.12 L1588.73,418.14 L1588.89,417.15 L1589.06,416.16 L1589.22,415.18 L1589.39,414.19 L1589.56,413.21 L1589.74,412.22 L1589.91,411.24 L1590.09,410.26 L1590.28,409.27 L1590.46,408.29 L1590.65,407.31 L1590.84,406.33 L1591.03,405.34 L1591.22,404.36 L1591.42,403.38 L1591.61,402.40 L1591.81,401.42 L1592.01,400.44 L1592.21,399.46 L1592.41,398.48 L1592.62,397.50 L1592.82,396.52 L1593.03,395.55 L1593.24,394.57 L1593.45,393.59 L1593.66,392.61 L1593.87,391.64 L1594.08,390.66 L1594.29,389.68 L1594.51,388.70 L1594.72,387.73 L1594.94,386.75 L1595.16,385.78 L1595.37,384.80 L1595.59,383.82 L1595.81,382.85 L1596.03,381.87 L1596.26,380.90 L1596.48,379.92 L1596.71,378.95 L1596.93,377.98 L1597.16,377.00 L1597.39,376.03 L1597.63,375.06 L1597.87,374.09 L1598.10,373.11 L1598.35,372.14 L1598.59,371.17 L1598.84,370.21 L1599.09,369.24 L1599.34,368.27 L1599.59,367.30 L1599.84,366.33 L1600.09,365.37 L1600.34,364.40 L1600.60,363.43 L1600.85,362.46 L1601.10,361.49 L1601.35,360.53 L1601.61,359.56 L1601.87,358.59 L1602.13,357.63 L1602.40,356.67 L1602.67,355.70 L1602.95,354.74 L1603.23,353.78 L1603.53,352.83 L1603.83,351.88 L1604.16,350.93 L1604.50,350.00 L1604.86,349.07 L1605.25,348.15 L1605.66,347.24 L1606.11,346.35 L1606.59,345.48 L1607.09,344.62 L1607.63,343.78 L1608.20,342.96 L1608.80,342.17 L1609.43,341.41 L1610.10,340.67 L1610.80,339.98 L1611.54,339.32 L1612.31,338.72 L1613.11,338.19 L1613.94,337.77 L1614.80,337.48 L1615.68,337.35 L1616.56,337.39 L1617.42,337.60 L1618.27,337.96 L1619.09,338.44 L1619.88,339.00 L1620.64,339.63 L1621.38,340.29 L1622.08,340.99 L1622.76,341.72 L1623.41,342.47 L1624.03,343.25 L1624.62,344.05 L1625.18,344.88 L1625.71,345.72 L1626.21,346.58 L1626.68,347.46 L1627.12,348.36 L1627.53,349.26 L1627.92,350.18 L1628.29,351.11 L1628.64,352.04 L1628.98,352.99 L1629.30,353.93 L1629.62,354.88 L1629.92,355.83 L1630.22,356.79 L1630.51,357.74 L1630.79,358.70 L1631.07,359.66 L1631.35,360.62 L1631.62,361.58 L1631.89,362.55 L1632.16,363.51 L1632.43,364.47 L1632.69,365.44 L1632.95,366.40 L1633.21,367.37 L1633.47,368.34 L1633.72,369.31 L1633.97,370.27 L1634.21,371.24 L1634.44,372.22 L1634.67,373.19 L1634.90,374.16 L1635.12,375.14 L1635.34,376.11 L1635.56,377.09 L1635.77,378.07 L1635.98,379.04 L1636.19,380.02 L1636.40,381.00 L1636.60,381.98 L1636.81,382.96 L1637.01,383.94 L1637.22,384.92 L1637.42,385.89 L1637.63,386.87 L1637.83,387.85 L1638.04,388.83 L1638.24,389.81 L1638.45,390.79 L1638.66,391.77 L1638.87,392.74 L1639.08,393.72 L1639.29,394.70 L1639.50,395.68 L1639.71,396.65 L1639.91,397.63 L1640.12,398.61 L1640.33,399.59 L1640.53,400.57 L1640.73,401.55 L1640.93,402.53 L1641.13,403.51 L1641.33,404.49 L1641.52,405.47 L1641.71,406.45 L1641.90,407.43 L1642.08,408.42 L1642.26,409.40 L1642.44,410.38 L1642.61,411.37 L1642.77,412.36 L1642.94,413.34 L1643.10,414.33 L1643.25,415.32 L1643.40,416.31 L1643.55,417.29 L1643.70,418.28 L1643.84,419.27 L1643.98,420.26 L1644.12,421.25 L1644.26,422.24 L1644.40,423.23 L1644.54,424.23 L1644.67,425.22 L1644.81,426.21 L1644.96,427.20 L1645.10,428.19 L1645.24,429.17 L1645.39,430.16 L1645.54,431.15 L1645.70,432.14 L1645.86,433.13 L1646.02,434.11 L1646.19,435.10 L1646.36,436.09 L1646.53,437.07 L1646.71,438.05 L1646.88,439.04 L1647.06,440.02 L1647.25,441.00 L1647.43,441.99 L1647.61,442.97 L1647.79,443.95 L1647.97,444.94 L1648.15,445.92 L1648.33,446.91 L1648.51,447.89 L1648.68,448.87 L1648.86,449.86 L1649.03,450.84 L1649.21,451.83 L1649.38,452.81 L1649.55,453.80 L1649.73,454.78 L1649.90,455.77 L1650.07,456.75 L1650.24,457.74 L1650.41,458.72 L1650.59,459.71 L1650.76,460.69 L1650.93,461.68 L1651.10,462.66 L1651.27,463.65 L1651.44,464.64 L1651.61,465.62 L1651.79,466.61 L1651.96,467.59 L1652.13,468.58 L1652.30,469.56 L1652.48,470.55 L1652.65,471.53 L1652.82,472.52 L1652.99,473.50 L1653.17,474.49 L1653.34,475.47 L1653.51,476.46 L1653.68,477.44 L1653.86,478.43 L1654.03,479.41 L1654.20,480.40 L1654.37,481.38 L1654.55,482.37 L1654.72,483.35 L1654.89,484.34 L1655.06,485.32 L1655.24,486.31 L1655.41,487.29 L1655.58,488.28 L1655.75,489.26 L1655.92,490.25 L1656.09,491.23 L1656.26,492.22 L1656.42,493.20 L1656.59,494.19 L1656.75,495.18 L1656.91,496.16 L1657.07,497.15 L1657.23,498.14 L1657.40,499.12 L1657.56,500.11 L1657.72,501.10 L1657.88,502.08 L1658.05,503.07 L1658.22,504.06 L1658.39,505.04 L1658.57,506.03 L1658.75,507.01 L1658.94,507.99 L1659.13,508.97 L1659.34,509.95 L1659.55,510.93 L1659.78,511.90 L1660.02,512.87 L1660.27,513.84 L1660.53,514.80 L1660.80,515.77 L1661.07,516.73 L1661.34,517.69 L1661.60,518.65 L1661.86,519.62 L1662.11,520.59 L1662.36,521.56 L1662.59,522.53 L1662.82,523.50 L1663.05,524.48 L1663.27,525.45 L1663.48,526.43 L1663.69,527.41 L1663.91,528.38 L1664.11,529.36 L1664.32,530.34 L1664.52,531.32 L1664.72,532.30 L1664.92,533.28 L1665.12,534.26 L1665.32,535.24 L1665.52,536.22 L1665.71,537.20 L1665.91,538.18 L1666.10,539.16 L1666.29,540.14 L1666.48,541.13 L1666.66,542.11 L1666.85,543.09 L1667.03,544.07 L1667.21,545.06 L1667.39,546.04 L1667.57,547.03 L1667.74,548.01 L1667.92,548.99 L1668.11,549.98 L1668.30,550.96 L1668.49,551.94 L1668.69,552.92 L1668.90,553.90 L1669.11,554.87 L1669.34,555.85 L1669.57,556.82 L1669.80,557.79 L1670.05,558.76 L1670.31,559.73 L1670.58,560.69 L1670.85,561.65 L1671.14,562.61 L1671.43,563.56 L1671.73,564.52 L1672.04,565.47 L1672.36,566.42 L1672.68,567.36 L1673.01,568.31 L1673.36,569.25 L1673.70,570.18 L1674.06,571.12 L1674.42,572.05 L1674.79,572.98 L1675.17,573.90 L1675.56,574.82 L1675.96,575.74 L1676.37,576.65 L1676.79,577.56 L1677.22,578.46 L1677.65,579.36 L1678.09,580.26 L1678.53,581.16 L1678.97,582.06 L1679.41,582.96 L1679.83,583.86 L1680.25,584.77 L1680.67,585.68 L1681.07,586.59 L1681.47,587.51 L1681.86,588.43 L1682.24,589.35 L1682.63,590.28 L1683.01,591.20 L1683.39,592.13 L1683.77,593.05 L1684.16,593.97 L1684.55,594.89 L1684.94,595.81 L1685.35,596.72 L1685.77,597.63 L1686.20,598.53 L1686.64,599.43 L1687.10,600.32 L1687.57,601.20 L1688.05,602.07 L1688.54,602.95 L1689.02,603.82 L1689.50,604.70 L1689.96,605.58 L1690.41,606.48 L1690.84,607.38 L1691.26,608.29 L1691.66,609.20 L1692.05,610.12 L1692.44,611.04 L1692.82,611.97 L1693.20,612.89 L1693.58,613.82 L1693.96,614.74 L1694.34,615.67 L1694.73,616.59 L1695.12,617.51 L1695.52,618.42 L1695.93,619.33 L1696.35,620.24 L1696.78,621.14 L1697.22,622.04 L1697.66,622.94 L1698.12,623.83 L1698.57,624.72 L1699.04,625.60 L1699.51,626.49 L1699.99,627.37 L1700.47,628.24 L1700.96,629.11 L1701.45,629.98 L1701.96,630.84 L1702.46,631.71 L1702.98,632.56 L1703.50,633.42 L1704.02,634.27 L1704.55,635.12 L1705.08,635.97 L1705.61,636.81 L1706.15,637.66 L1706.69,638.50 L1707.24,639.33 L1707.79,640.17 L1708.34,641.00 L1708.90,641.83 L1709.46,642.66 L1710.02,643.49 L1710.59,644.31 L1711.16,645.13 L1711.73,645.95 L1712.30,646.77 L1712.88,647.59 L1713.46,648.40 L1714.05,649.21 L1714.63,650.02 L1715.22,650.83 L1715.81,651.64 L1716.41,652.44 L1717.00,653.25 L1717.60,654.05 L1718.20,654.85 L1718.80,655.65 L1719.40,656.45 L1720.00,657.25 L1720.61,658.04 L1721.22,658.83 L1721.83,659.62 L1722.45,660.41 L1723.07,661.19 L1723.69,661.98 L1724.32,662.75 L1724.95,663.53 L1725.59,664.30 L1726.22,665.07 L1726.86,665.84 L1727.51,666.61 L1728.16,667.37 L1728.81,668.12 L1729.47,668.88 L1730.13,669.63 L1730.80,670.37 L1731.47,671.11 L1732.14,671.85 L1732.82,672.58 L1733.51,673.31 L1734.19,674.04 L1734.88,674.76 L1735.58,675.49 L1736.27,676.21 L1736.96,676.93 L1737.65,677.65 L1738.34,678.37 L1739.03,679.10 L1739.72,679.83 L1740.40,680.56 L1741.08,681.29 L1741.76,682.02 L1742.45,682.75 L1743.14,683.47 L1743.84,684.18 L1744.55,684.89 L1745.26,685.59 L1745.97,686.29 L1746.70,686.98 L1747.42,687.67 L1748.15,688.36 L1748.88,689.04 L1749.61,689.72 L1750.35,690.40 L1751.09,691.07 L1751.83,691.74 L1752.57,692.41 L1753.32,693.07 L1754.08,693.73 L1754.83,694.38 L1755.59,695.03 L1756.36,695.68 L1757.13,696.32 L1757.90,696.95 L1758.68,697.58 L1759.46,698.20 L1760.25,698.81 L1761.04,699.42 L1761.84,700.02 L1762.64,700.62 L1763.46,701.20 L1764.27,701.78 L1765.10,702.34 L1765.93,702.90 L1766.77,703.44 L1767.61,703.97 L1768.47,704.49 L1769.33,705.00 L1770.19,705.50 L1771.07,705.99 L1771.94,706.47 L1772.83,706.94 L1773.71,707.40 L1774.60,707.87 L1775.49,708.32 L1776.38,708.78 L1777.26,709.24 L1778.15,709.70 L1779.04,710.16 L1779.92,710.62 L1780.81,711.10 L1781.68,711.58 L1782.55,712.06 L1783.42,712.56 L1784.28,713.07 L1785.13,713.59 L1785.98,714.13 L1786.81,714.68 L1787.64,715.24 L1788.46,715.81 L1789.26,716.40 L1790.06,717.01 L1790.85,717.62 L1791.63,718.25 L1792.40,718.88 L1793.17,719.52 L1793.93,720.17 L1794.69,720.82 L1795.44,721.48 L1796.19,722.14 L1796.94,722.80 L1797.68,723.47 L1798.43,724.14 L1799.18,724.80 L1799.92,725.47 L1800.67,726.13 L1801.42,726.79 L1802.18,727.44 L1802.94,728.10 L1803.70,728.74 L1804.47,729.38 L1805.24,730.01 L1806.03,730.63 L1806.82,731.25 L1807.61,731.85 L1808.42,732.44 L1809.23,733.03 L1810.04,733.60 L1810.86,734.18 L1811.69,734.74 L1812.52,735.30 L1813.35,735.86 L1814.18,736.41 L1815.02,736.96 L1815.86,737.50 L1816.70,738.04 L1817.55,738.58 L1818.39,739.11 L1819.24,739.64 L1820.09,740.16 L1820.95,740.68 L1821.80,741.20 L1822.66,741.72 L1823.51,742.23 L1824.37,742.74 L1825.23,743.25 L1826.10,743.76 L1826.96,744.26 L1827.82,744.77 L1828.69,745.27 L1829.55,745.77 L1830.42,746.27 L1831.29,746.77 L1832.15,747.27 L1833.02,747.77 L1833.89,748.27 L1834.75,748.76 L1835.62,749.26 L1836.49,749.75 L1837.37,750.24 L1838.24,750.72 L1839.11,751.21 L1839.99,751.69 L1840.87,752.17 L1841.75,752.64 L1842.63,753.11 L1843.52,753.57 L1844.41,754.03 L1845.30,754.48 L1846.20,754.92 L1847.10,755.36 L1848.00,755.79 L1848.90,756.22 L1849.81,756.63 L1850.73,757.04 L1851.64,757.44 L1852.56,757.83 L1853.49,758.22 L1854.41,758.59 L1855.34,758.97 L1856.27,759.33 L1857.20,759.69 L1858.14,760.05 L1859.07,760.40 L1860.01,760.75 L1860.95,761.09 L1861.89,761.43 L1862.83,761.77 L1863.77,762.10 L1864.72,762.44 L1865.66,762.77 L1866.60,763.10 L1867.55,763.42 L1868.49,763.75 L1869.44,764.08 L1870.38,764.41 L1871.33,764.74 L1872.27,765.07 L1873.22,765.40 L1874.16,765.73 L1875.10,766.06 L1876.05,766.38 L1876.99,766.71 L1877.94,767.04 L1878.88,767.36 L1879.83,767.69 L1880.78,768.01 L1881.73,768.32 L1882.68,768.63 L1883.63,768.94 L1884.58,769.25 L1885.53,769.55 L1886.49,769.84 L1887.45,770.13 L1888.41,770.41 L1889.37,770.69 L1890.33,770.96 L1891.29,771.23 L1892.26,771.49 L1893.22,771.75 L1894.19,772.00 L1895.16,772.25 L1896.13,772.50 L1897.10,772.74 L1898.07,772.99 L1899.04,773.22 L1900.01,773.46 L1900.98,773.69 L1901.96,773.92 L1902.93,774.15 L1903.91,774.37 L1904.88,774.60 L1905.85,774.82 L1906.83,775.04 L1907.81,775.26 L1908.78,775.48 L1909.76,775.70 L1910.73,775.92 L1911.71,776.13 L1912.69,776.35 L1913.66,776.56 L1914.64,776.77 L1915.62,776.97 L1916.60,777.17 L1917.58,777.36 L1918.56,777.55 L1919.55,777.73 L1920.53,777.91 L1921.52,778.08 L1922.50,778.24 L1923.49,778.39 L1924.48,778.54 L1925.47,778.69 L1926.46,778.82 L1927.45,778.96 L1928.44,779.09 L1929.43,779.21 L1930.43,779.34 L1931.42,779.46 L1932.41,779.57 L1933.41,779.69 L1934.40,779.79 L1935.39,779.90 L1936.39,780.00 L1937.38,780.10 L1938.38,780.20 L1939.37,780.29 L1940.37,780.38 L1941.37,780.47 L1942.36,780.55 L1943.36,780.63 L1944.36,780.71 L1945.35,780.79 L1946.35,780.87 L1947.35,780.94 L1948.35,781.01 L1949.34,781.08 L1950.34,781.15 L1951.34,781.22 L1952.34,781.28 L1953.33,781.34 L1954.33,781.41 L1955.33,781.46 L1956.33,781.52 L1957.33,781.58 L1958.33,781.63 L1959.32,781.68 L1960.32,781.74 L1961.32,781.79 L1962.32,781.84 L1963.32,781.89 L1964.32,781.94 L1965.32,781.99 L1966.32,782.04 L1967.31,782.09 L1968.31,782.13 L1969.31,782.18 L1970.31,782.23 L1971.31,782.27 L1972.31,782.32 L1973.31,782.36 L1974.31,782.41 L1975.31,782.45 L1976.31,782.49 L1977.30,782.54 L1978.30,782.58 L1979.30,782.62 L1980.30,782.66 L1981.30,782.70 L1982.30,782.74 L1983.30,782.78 L1984.30,782.81 L1985.30,782.85 L1986.30,782.89 L1987.30,782.92 L1988.30,782.96 L1989.30,782.99 L1990.30,783.02 L1991.29,783.05 L1992.29,783.09 L1993.29,783.12 L1994.29,783.15 L1995.29,783.17 L1996.29,783.20 L1997.29,783.23 L1998.29,783.25 L1999.29,783.28 L2000.29,783.31 L2001.29,783.33 L2002.29,783.35 L2003.29,783.38 L2004.29,783.40 L2005.29,783.42 L2006.29,783.44 L2007.29,783.47 L2008.29,783.49 L2009.29,783.51 L2010.29,783.53 L2011.29,783.55 L2012.29,783.57 L2013.29,783.59 L2014.29,783.61 L2015.29,783.62 L2016.29,783.64 L2017.29,783.66 L2018.29,783.68 L2019.29,783.69 L2020.29,783.71 L2021.28,783.72 L2022.28,783.73 L2023.25,783.75 L2024.20,783.76 L2025.08,783.77 L2025.87,783.78 L2026.52,783.78 L2027.79,783.80 L2027.79,786.40 Z" fill="rgba(51,51,255,0.6)" stroke="#000" stroke-width="5.8" stroke-linejoin="round"/>
</g>
<path fill="#262626" fill-rule="evenodd" d="M1514,110H2190V787H1514Z M1520,115H2185V782H1520Z"/>
<rect x="1520" y="222" width="6" height="5" fill="#262626"/>
<rect x="2178" y="222" width="7" height="5" fill="#262626"/>
<rect x="1520" y="334" width="6" height="5" fill="#262626"/>
<rect x="2178" y="334" width="7" height="5" fill="#262626"/>
<rect x="1520" y="446" width="6" height="5" fill="#262626"/>
<rect x="2178" y="446" width="7" height="5" fill="#262626"/>
<rect x="1520" y="558" width="6" height="5" fill="#262626"/>
<rect x="2178" y="558" width="7" height="5" fill="#262626"/>
<rect x="1520" y="670" width="6" height="5" fill="#262626"/>
<rect x="2178" y="670" width="7" height="5" fill="#262626"/>
<rect x="1550" y="152" width="477" height="149" fill="#fff"/>
<path fill="#262626" fill-rule="evenodd" d="M1549.3,150H2027.7L2029,151.3V301.7L2027.7,303H1549.3L1548,301.7V151.3Z M1553,155.6H2024V298H1553Z"/>
<rect x="1578" y="174" width="261" height="44" fill="rgba(51,51,51,0.8)"/>
<path fill="#000" fill-rule="evenodd" d="M1576.3,171H1840.7L1842,172.3V219.7L1840.7,221H1576.3L1575,219.7V172.3Z M1580,176.2H1837V215.1H1580Z"/>
<rect x="1578" y="236" width="261" height="44" fill="rgba(51,51,255,0.6)"/>
<path fill="#000" fill-rule="evenodd" d="M1576.3,233H1840.7L1842,234.3V281.7L1840.7,283H1576.3L1575,281.7V234.3Z M1580,238.8H1837V277.9H1580Z"/>
<g transform="translate(96,555) rotate(-90)"><rect x="34.2" y="20" width="50.8" height="4" fill="#262626"/><rect x="126.4" y="9.1" width="60.7" height="3.9" fill="#262626"/></g>
<g transform="translate(1342,555) rotate(-90)"><rect x="34.2" y="20" width="50.8" height="4" fill="#262626"/><rect x="126.4" y="9.1" width="60.7" height="3.9" fill="#262626"/></g>
<text transform="matrix(0.4335 0.0006 -0.0006 0.4353 1859.92 211.76)" font-family="'Liberation Sans', sans-serif" font-size="100" fill="#000">LES</text>
<text transform="matrix(0.4376 0.0006 -0.0006 0.4297 1859.01 274.77)" font-family="'Liberation Sans', sans-serif" font-size="100" fill="#000">URANS</text>
<text transform="matrix(0.6994 0.0006 -0.0006 0.6919 150.88 130.11)" font-family="'Liberation Serif', serif" font-size="100" fill="#262626" stroke="#262626" stroke-width="0.86" stroke-linejoin="round">10</text>
<text transform="matrix(0.7144 0.0006 -0.0006 0.6970 131.46 297.75)" font-family="'Liberation Serif', serif" font-size="100" fill="#262626" stroke="#262626" stroke-width="0.85" stroke-linejoin="round">7.5</text>
<text transform="matrix(0.6907 0.0006 -0.0006 0.7023 186.13 466.10)" font-family="'Liberation Serif', serif" font-size="100" fill="#262626" stroke="#262626" stroke-width="0.86" stroke-linejoin="round">5</text>
<text transform="matrix(0.7021 0.0006 -0.0006 0.6893 132.94 633.77)" font-family="'Liberation Serif', serif" font-size="100" fill="#262626" stroke="#262626" stroke-width="0.86" stroke-linejoin="round">2.5</text>
<text transform="matrix(0.6753 0.0006 -0.0006 0.6919 186.97 802.11)" font-family="'Liberation Serif', serif" font-size="100" fill="#262626" stroke="#262626" stroke-width="0.88" stroke-linejoin="round">0</text>
<text transform="matrix(0.7100 0.0006 -0.0006 0.6883 217.81 857.70)" font-family="'Liberation Serif', serif" font-size="100" fill="#262626" stroke="#262626" stroke-width="0.86" stroke-linejoin="round">2</text>
<text transform="matrix(0.6624 0.0006 -0.0006 0.6935 441.98 857.70)" font-family="'Liberation Serif', serif" font-size="100" fill="#262626" stroke="#262626" stroke-width="0.89" stroke-linejoin="round">4</text>
<text transform="matrix(0.6760 0.0006 -0.0006 0.6959 664.88 858.20)" font-family="'Liberation Serif', serif" font-size="100" fill="#262626" stroke="#262626" stroke-width="0.87" stroke-linejoin="round">6</text>
<text transform="matrix(0.6800 0.0006 -0.0006 0.6933 888.70 858.21)" font-family="'Liberation Serif', serif" font-size="100" fill="#262626" stroke="#262626" stroke-width="0.87" stroke-linejoin="round">8</text>
<text transform="matrix(0.6900 0.0006 -0.0006 0.6970 1432.46 130.10)" font-family="'Liberation Serif', serif" font-size="100" fill="#262626" stroke="#262626" stroke-width="0.87" stroke-linejoin="round">15</text>
<text transform="matrix(0.7076 0.0006 -0.0006 0.6893 1377.81 241.77)" font-family="'Liberation Serif', serif" font-size="100" fill="#262626" stroke="#262626" stroke-width="0.86" stroke-linejoin="round">12.5</text>
<text transform="matrix(0.6994 0.0006 -0.0006 0.6919 1431.68 354.11)" font-family="'Liberation Serif', serif" font-size="100" fill="#262626" stroke="#262626" stroke-width="0.86" stroke-linejoin="round">10</text>
<text transform="matrix(0.7144 0.0006 -0.0006 0.6970 1412.26 465.75)" font-family="'Liberation Serif', serif" font-size="100" fill="#262626" stroke="#262626" stroke-width="0.85" stroke-linejoin="round">7.5</text>
<text transform="matrix(0.6907 0.0006 -0.0006 0.7023 1466.93 578.10)" font-family="'Liberation Serif', serif" font-size="100" fill="#262626" stroke="#262626" stroke-width="0.86" stroke-linejoin="round">5</text>
<text transform="matrix(0.7021 0.0006 -0.0006 0.6893 1413.74 689.77)" font-family="'Liberation Serif', serif" font-size="100" fill="#262626" stroke="#262626" stroke-width="0.86" stroke-linejoin="round">2.5</text>
<text transform="matrix(0.6753 0.0006 -0.0006 0.6919 1467.77 802.11)" font-family="'Liberation Serif', serif" font-size="100" fill="#262626" stroke="#262626" stroke-width="0.88" stroke-linejoin="round">0</text>
<text transform="matrix(0.6800 0.0006 -0.0006 0.6933 1499.20 858.21)" font-family="'Liberation Serif', serif" font-size="100" fill="#262626" stroke="#262626" stroke-width="0.87" stroke-linejoin="round">0</text>
<text transform="matrix(0.6907 0.0006 -0.0006 0.7038 2168.83 858.20)" font-family="'Liberation Serif', serif" font-size="100" fill="#262626" stroke="#262626" stroke-width="0.86" stroke-linejoin="round">5</text>
<g class="exponent"><text transform="matrix(0.8444 0.0006 -0.0006 0.8321 238.04 98.42)" font-family="'Liberation Serif', serif" font-size="100" fill="#262626">×</text><text transform="matrix(0.6846 0.0006 -0.0006 0.6948 290.31 88.31)" font-family="'Liberation Serif', serif" font-size="100" fill="#262626" stroke="#262626" stroke-width="0.87" stroke-linejoin="round">10</text><text transform="matrix(0.4873 0.0006 -0.0006 0.4848 359.99 62.42)" font-family="'Liberation Serif', serif" font-size="100" fill="#262626" stroke="#262626" stroke-width="1.23" stroke-linejoin="round">3</text></g>
<g class="exponent"><text transform="matrix(0.8444 0.0006 -0.0006 0.8321 1519.54 98.42)" font-family="'Liberation Serif', serif" font-size="100" fill="#262626">×</text><text transform="matrix(0.6846 0.0006 -0.0006 0.6948 1571.81 88.31)" font-family="'Liberation Serif', serif" font-size="100" fill="#262626" stroke="#262626" stroke-width="0.87" stroke-linejoin="round">10</text><text transform="matrix(0.4873 0.0006 -0.0006 0.4848 1641.49 62.42)" font-family="'Liberation Serif', serif" font-size="100" fill="#262626" stroke="#262626" stroke-width="1.23" stroke-linejoin="round">3</text></g>
<g class="exponent"><text transform="matrix(0.8420 0.0006 -0.0006 0.8346 718.16 953.05)" font-family="'Liberation Serif', serif" font-size="100" fill="#262626">×</text><text transform="matrix(0.6914 0.0006 -0.0006 0.6933 770.45 942.81)" font-family="'Liberation Serif', serif" font-size="100" fill="#262626" stroke="#262626" stroke-width="0.87" stroke-linejoin="round">10</text><text transform="matrix(0.6473 0.0006 -0.0006 0.6600 840.86 926.59)" font-family="'Liberation Serif', serif" font-size="100" fill="#262626">−</text><text transform="matrix(0.4688 0.0006 -0.0006 0.4928 878.36 917.00)" font-family="'Liberation Serif', serif" font-size="100" fill="#262626" stroke="#262626" stroke-width="1.25" stroke-linejoin="round">4</text></g>
<g class="exponent"><text transform="matrix(0.8420 0.0006 -0.0006 0.8346 1999.16 953.05)" font-family="'Liberation Serif', serif" font-size="100" fill="#262626">×</text><text transform="matrix(0.6914 0.0006 -0.0006 0.6933 2051.45 942.81)" font-family="'Liberation Serif', serif" font-size="100" fill="#262626" stroke="#262626" stroke-width="0.87" stroke-linejoin="round">10</text><text transform="matrix(0.6473 0.0006 -0.0006 0.6600 2121.86 926.59)" font-family="'Liberation Serif', serif" font-size="100" fill="#262626">−</text><text transform="matrix(0.4688 0.0006 -0.0006 0.4928 2159.36 917.00)" font-family="'Liberation Serif', serif" font-size="100" fill="#262626" stroke="#262626" stroke-width="1.25" stroke-linejoin="round">4</text></g>
<g class="xlabel"><text transform="matrix(0.8742 0.0006 -0.0006 0.5672 538.40 907.70)" font-family="'Liberation Serif', serif" font-size="100" fill="#262626">~</text><text transform="matrix(0.9119 0.0006 -0.0006 0.7969 528.94 958.90)" font-family="'Liberation Serif', serif" font-size="100" fill="#262626" font-style="italic">E</text><text transform="matrix(0.5918 0.0006 -0.0006 0.5439 583.32 970.40)" font-family="'Liberation Serif', serif" font-size="100" fill="#262626" font-style="italic">k</text></g>
<g class="xlabel"><text transform="matrix(0.9614 0.0006 -0.0006 0.3204 1820.76 903.89)" font-family="'Liberation Serif', serif" font-size="100" fill="#262626">^</text><text transform="matrix(0.9119 0.0006 -0.0006 0.7969 1809.94 958.90)" font-family="'Liberation Serif', serif" font-size="100" fill="#262626" font-style="italic">E</text><text transform="matrix(0.5918 0.0006 -0.0006 0.5439 1864.32 970.40)" font-family="'Liberation Serif', serif" font-size="100" fill="#262626" font-style="italic">k</text></g>
<g class="caption"><text transform="matrix(0.7843 0.0006 -0.0006 0.8188 519.87 1052.10)" font-family="'Liberation Serif', serif" font-size="100" fill="#262626" stroke="#262626" stroke-width="1.25" stroke-linejoin="round">(</text><text transform="matrix(0.8486 0.0006 -0.0006 0.7271 549.34 1051.27)" font-family="'Liberation Serif', serif" font-size="100" fill="#262626" font-weight="bold">a</text><text transform="matrix(0.7883 0.0006 -0.0006 0.8188 595.04 1052.10)" font-family="'Liberation Serif', serif" font-size="100" fill="#262626" stroke="#262626" stroke-width="1.24" stroke-linejoin="round">)</text></g>
<g class="caption"><text transform="matrix(0.8039 0.0006 -0.0006 0.8188 1797.58 1052.10)" font-family="'Liberation Serif', serif" font-size="100" fill="#262626" stroke="#262626" stroke-width="1.23" stroke-linejoin="round">(</text><text transform="matrix(0.8557 0.0006 -0.0006 0.7560 1828.83 1051.24)" font-family="'Liberation Serif', serif" font-size="100" fill="#262626" font-weight="bold">b</text><text transform="matrix(0.7922 0.0006 -0.0006 0.8188 1879.03 1052.10)" font-family="'Liberation Serif', serif" font-size="100" fill="#262626" stroke="#262626" stroke-width="1.24" stroke-linejoin="round">)</text></g>
<g class="ylabel" transform="translate(96,555) rotate(-90)"><text transform="matrix(0.9000 0.0006 -0.0006 0.7510 0.88 -0.06)" font-family="'Liberation Serif', serif" font-size="100" fill="#262626" font-style="italic">f</text><text transform="matrix(0.6082 0.0006 -0.0006 0.4856 33.37 12.06)" font-family="'DejaVu Sans', sans-serif" font-size="100" fill="#262626" stroke="#262626" stroke-width="1.66" stroke-linejoin="round">ℛ</text><text transform="matrix(0.7020 0.0006 -0.0006 0.8298 101.04 1.47)" font-family="'Liberation Serif', serif" font-size="100" fill="#262626">(</text><text transform="matrix(0.9000 0.0006 -0.0006 0.7878 129.55 0.60)" font-family="'Liberation Serif', serif" font-size="100" fill="#262626" font-style="italic">R</text><text transform="matrix(0.6951 0.0006 -0.0006 0.8298 187.94 1.47)" font-family="'Liberation Serif', serif" font-size="100" fill="#262626">)</text></g>
<g class="ylabel" transform="translate(1342,555) rotate(-90)"><text transform="matrix(0.9000 0.0006 -0.0006 0.7510 0.88 -0.06)" font-family="'Liberation Serif', serif" font-size="100" fill="#262626" font-style="italic">f</text><text transform="matrix(0.6082 0.0006 -0.0006 0.4856 33.37 12.06)" font-family="'DejaVu Sans', sans-serif" font-size="100" fill="#262626" stroke="#262626" stroke-width="1.66" stroke-linejoin="round">ℛ</text><text transform="matrix(0.7020 0.0006 -0.0006 0.8298 101.04 1.47)" font-family="'Liberation Serif', serif" font-size="100" fill="#262626">(</text><text transform="matrix(0.9000 0.0006 -0.0006 0.7878 129.55 0.60)" font-family="'Liberation Serif', serif" font-size="100" fill="#262626" font-style="italic">R</text><text transform="matrix(0.6951 0.0006 -0.0006 0.8298 187.94 1.47)" font-family="'Liberation Serif', serif" font-size="100" fill="#262626">)</text></g>
</svg>
</body>
</html>
